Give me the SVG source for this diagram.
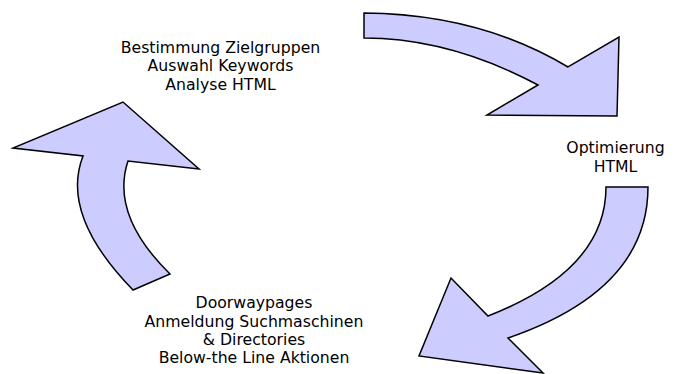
<svg xmlns="http://www.w3.org/2000/svg" width="681" height="374" viewBox="0 0 681 374">
<style>
.arrow{fill:#ccccff;stroke:#000;stroke-width:1.5;stroke-linejoin:miter}
.lbl{font-family:"DejaVu Sans",Verdana,sans-serif;font-size:15.7px;fill:#000;text-anchor:middle}
</style>
<rect width="681" height="374" fill="#fff"/>
<g id="connectors">
<path id="arrow-top" class="arrow" d="M364,13 Q480,14 568,67 L619,37 L617,116 L487,115 L538,85 Q450,38 364,38 Z"/>
<path id="arrow-right" class="arrow" d="M606,187 L648,187 Q648,290 508,338 L543,373 L419,356 L451,278 L488,316 Q606,270 606,187 Z"/>
<path id="arrow-left" class="arrow" d="M133,290 Q60,215 83,156 L13,148 L123,102 L199,169 L128,161 Q110,215 170,274 Z"/>
</g>
<g id="node-analyse">
<text class="lbl" x="220.5" y="52.5">Bestimmung Zielgruppen</text>
<text class="lbl" x="220.5" y="71">Auswahl Keywords</text>
<text class="lbl" x="220.5" y="89.5">Analyse HTML</text>
</g>
<g id="node-optimierung">
<text class="lbl" x="615.5" y="153">Optimierung</text>
<text class="lbl" x="615.5" y="171.5">HTML</text>
</g>
<g id="node-anmeldung">
<text class="lbl" x="254" y="308.3">Doorwaypages</text>
<text class="lbl" x="254" y="326.7">Anmeldung Suchmaschinen</text>
<text class="lbl" x="254" y="345">&amp; Directories</text>
<text class="lbl" x="254" y="363.4">Below-the Line Aktionen</text>
</g>
</svg>
